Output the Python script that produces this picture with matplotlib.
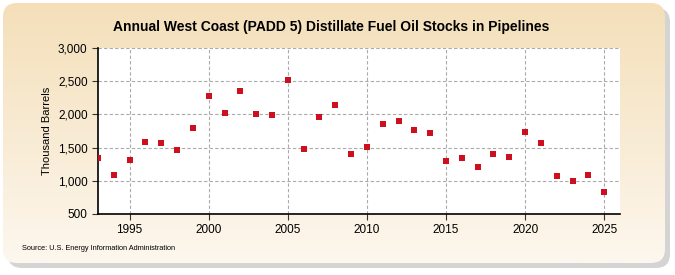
import matplotlib
matplotlib.use("Agg")
import matplotlib.pyplot as plt
import numpy as np
from matplotlib.patches import FancyBboxPatch

plt.rcParams["font.family"] = ["Liberation Sans", "DejaVu Sans"]

years = list(range(1993, 2026))
stocks = [1340, 1080, 1320, 1590, 1575, 1460, 1800, 2270, 2025, 2355,
          2010, 1995, 2520, 1485, 1965, 2145, 1408, 1509, 1860, 1905,
          1770, 1725, 1303, 1348, 1213, 1408, 1363, 1740, 1574, 1077,
          1002, 1092, 836]
yticks = [500, 1000, 1500, 2000, 2500, 3000]
xticks = [1995, 2000, 2005, 2010, 2015, 2020, 2025]

fig = plt.figure(figsize=(6.75, 2.75), dpi=100)
fig.patch.set_facecolor("white")

# background frame with shadow and gradient
bg = fig.add_axes([0, 0, 1, 1], zorder=0)
bg.set_xlim(0, 675)
bg.set_ylim(275, 0)
bg.axis("off")
shadow = FancyBboxPatch((8, 8), 662, 260, boxstyle="round,pad=0,rounding_size=14",
                        facecolor="#a0a0a0", edgecolor="none", alpha=0.45)
bg.add_patch(shadow)
frame = FancyBboxPatch((3, 3), 662, 260, boxstyle="round,pad=0,rounding_size=14",
                       facecolor="none", edgecolor="none")
bg.add_patch(frame)
grad = np.linspace(0, 1, 256).reshape(-1, 1)
c0 = np.array([0xF4, 0xDF, 0xB9]) / 255
c1 = np.array([0xFD, 0xF7, 0xEE]) / 255
img = c0[None, None, :] * (1 - grad[:, :, None]) + c1[None, None, :] * grad[:, :, None]
im = bg.imshow(img, extent=(3, 665, 263, 3), aspect="auto", zorder=1)
im.set_clip_path(frame)

ax = fig.add_axes([98 / 675, 1 - 214 / 275, (620 - 98) / 675, (214 - 48) / 275], zorder=2)
ax.set_facecolor("white")
ax.scatter(years, stocks, marker="s", s=14, color="#CC1020", zorder=3, linewidths=0)
ax.set_xlim(1993, 2026)
ax.set_ylim(500, 3000)
ax.set_xticks(xticks)
ax.set_yticks(yticks)
ax.set_yticklabels([f"{v:,}" for v in yticks])
ax.grid(True, color="#aaaaaa", linestyle=(0, (3, 2)), linewidth=0.8)
for s in ["top", "right"]:
    ax.spines[s].set_visible(False)
ax.spines["left"].set_linewidth(1.2)
ax.spines["bottom"].set_linewidth(1.2)
ax.tick_params(axis="both", labelsize=8.5, length=4, width=0.8, color="#333333")
ax.set_ylabel("Thousand Barrels", fontsize=8)

fig.text(331 / 675, 1 - 27 / 275, "Annual West Coast (PADD 5) Distillate Fuel Oil Stocks in Pipelines",
         ha="center", va="center", fontsize=10, fontweight="bold")
fig.text(22 / 675, 1 - 249 / 275, "Source: U.S. Energy Information Administration",
         ha="left", va="center", fontsize=5.3)

fig.savefig("out.png", dpi=100, facecolor=fig.get_facecolor())
